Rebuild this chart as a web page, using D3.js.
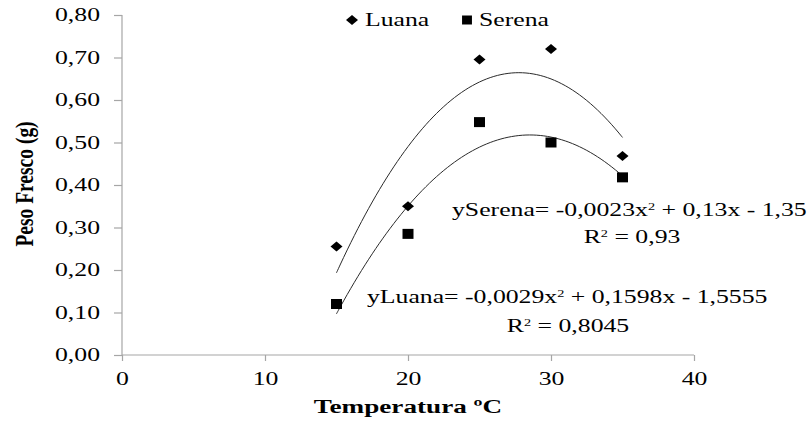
<!DOCTYPE html>
<html>
<head>
<meta charset="utf-8">
<script src="https://cdn.jsdelivr.net/npm/d3@7"></script>
<style>
  body { margin: 0; background: #fff; }
  text { font-family: "Liberation Serif", "Times New Roman", serif; fill: #000; }
</style>
</head>
<body>
<svg id="chart" width="811" height="423"></svg>
<script>
var temps = [15, 20, 25, 30, 35];
var luana = [0.255, 0.35, 0.695, 0.72, 0.468];
var serena = [0.12, 0.285, 0.548, 0.50, 0.418];
var xTicks = [0, 10, 20, 30, 40];
var yTicks = [0, 0.1, 0.2, 0.3, 0.4, 0.5, 0.6, 0.7, 0.8];
var seriesNames = ['Luana', 'Serena'];
var eqSerena = 'ySerena= -0,0023x';
var eqLuana = 'yLuana= -0,0029x';

var stretch = 1.43;   // the source image is wider than it is tall
var svg = d3.select('#chart');

var x = d3.scaleLinear().domain([0, 40]).range([122, 694]);
var y = d3.scaleLinear().domain([0, 0.8]).range([355, 15]);

function comma(d) {
    return d3.format('.2f')(d).replace('.', ',');
}

// least squares quadratic fit, y = a + b x + c x^2
function quadFit(xs, ys) {
    var s = [0, 0, 0, 0, 0], t = [0, 0, 0];
    xs.forEach(function(xv, i) {
        for (var k = 0; k < 5; k++) s[k] += Math.pow(xv, k);
        for (var k2 = 0; k2 < 3; k2++) t[k2] += ys[i] * Math.pow(xv, k2);
    });
    var m = [[s[0], s[1], s[2], t[0]], [s[1], s[2], s[3], t[1]], [s[2], s[3], s[4], t[2]]];
    for (var i = 0; i < 3; i++) {
        for (var j = i + 1; j < 3; j++) {
            var f = m[j][i] / m[i][i];
            for (var k = i; k < 4; k++) m[j][k] -= f * m[i][k];
        }
    }
    var c = [0, 0, 0];
    for (var i2 = 2; i2 >= 0; i2--) {
        var v = m[i2][3];
        for (var j2 = i2 + 1; j2 < 3; j2++) v -= m[i2][j2] * c[j2];
        c[i2] = v / m[i2][i2];
    }
    return function(xv) { return c[0] + c[1] * xv + c[2] * xv * xv; };
}

// axes
var yAxis = svg.append('g')
    .attr('transform', 'translate(122,0)')
    .call(d3.axisLeft(y).tickValues(yTicks).tickSize(8).tickFormat(comma));

var xAxis = svg.append('g')
    .attr('transform', 'translate(0,355)')
    .call(d3.axisBottom(x).tickValues(xTicks).tickSize(6).tickFormat(d3.format('d')));

[yAxis, xAxis].forEach(function(ax) {
    ax.select('.domain').attr('stroke', '#a6a6a6').attr('stroke-width', 1.2);
    ax.selectAll('.tick line').attr('stroke', '#a6a6a6').attr('stroke-width', 1.2);
    ax.selectAll('text')
        .style('font-family', '"Liberation Serif", serif')
        .style('font-size', '18px')
        .attr('fill', '#000');
});
yAxis.select('.domain').attr('d', 'M0,355V15');
xAxis.select('.domain').attr('d', 'M122,0H694');
yAxis.selectAll('text').attr('x', -22 / stretch).attr('transform', 'scale(' + stretch + ',1)');
xAxis.selectAll('text').attr('y', 17).attr('transform', 'scale(' + stretch + ',1)');

// axis titles
svg.append('text')
    .attr('transform', 'translate(408,413) scale(' + stretch + ',1)')
    .attr('text-anchor', 'middle')
    .style('font-size', '19px')
    .style('font-weight', 'bold')
    .text('Temperatura ºC');

svg.append('text')
    .attr('transform', 'translate(33,184) rotate(-90) scale(1,1.3)')
    .attr('text-anchor', 'middle')
    .style('font-size', '19.5px')
    .style('font-weight', 'bold')
    .text('Peso Fresco (g)');

// trend curves
var line = d3.line()
    .x(function(d) { return x(d[0]); })
    .y(function(d) { return y(d[1]); })
    .curve(d3.curveBasis);

[luana, serena].forEach(function(vals) {
    var fit = quadFit(temps, vals);
    var pts = d3.range(15, 35.01, 0.25).map(function(t) { return [t, fit(t)]; });
    svg.append('path')
        .attr('d', line(pts))
        .attr('fill', 'none')
        .attr('stroke', '#2a2a2a')
        .attr('stroke-width', 1);
});

// markers
var diamond = d3.symbol().type(d3.symbolSquare).size(50);
var square = d3.symbol().type(d3.symbolSquare).size(100);

svg.append('g').selectAll('path')
    .data(temps)
    .join('path')
    .attr('d', diamond)
    .attr('transform', function(d, i) {
        return 'translate(' + x(d) + ',' + y(luana[i]) + ') scale(1.2,1) rotate(45)';
    })
    .attr('fill', '#000');

svg.append('g').selectAll('path')
    .data(temps)
    .join('path')
    .attr('d', square)
    .attr('transform', function(d, i) {
        return 'translate(' + x(d) + ',' + y(serena[i]) + ') scale(1.1,1)';
    })
    .attr('fill', '#000');

// legend
svg.append('path')
    .attr('d', diamond)
    .attr('transform', 'translate(352,20) scale(1.2,1) rotate(45)')
    .attr('fill', '#000');
svg.append('text')
    .attr('transform', 'translate(365,26) scale(' + stretch + ',1)')
    .style('font-size', '18px')
    .text(seriesNames[0]);
svg.append('path')
    .attr('d', d3.symbol().type(d3.symbolSquare).size(81))
    .attr('transform', 'translate(467,20) scale(1.1,1)')
    .attr('fill', '#000');
svg.append('text')
    .attr('transform', 'translate(479,26) scale(' + stretch + ',1)')
    .style('font-size', '18px')
    .text(seriesNames[1]);

// equations
function equation(xPos, yPos, head, tail) {
    var t = svg.append('text')
        .attr('transform', 'translate(' + xPos + ',' + yPos + ') scale(' + stretch + ',1)')
        .style('font-size', '18px');
    t.append('tspan').text(head);
    t.append('tspan').attr('dy', -6).style('font-size', '10px').text('2');
    t.append('tspan').attr('dy', 6).text(tail);
}
function rsq(xPos, yPos, val) {
    var t = svg.append('text')
        .attr('transform', 'translate(' + xPos + ',' + yPos + ') scale(' + stretch + ',1)')
        .attr('text-anchor', 'middle')
        .style('font-size', '18px');
    t.append('tspan').text('R');
    t.append('tspan').attr('dy', -6).style('font-size', '10px').text('2');
    t.append('tspan').attr('dy', 6).text(' = ' + val);
}

equation(452, 216, eqSerena, ' + 0,13x - 1,35');
rsq(632, 243, '0,93');
equation(367, 303, eqLuana, ' + 0,1598x - 1,5555');
rsq(568, 332, '0,8045');
</script>
</body>
</html>
